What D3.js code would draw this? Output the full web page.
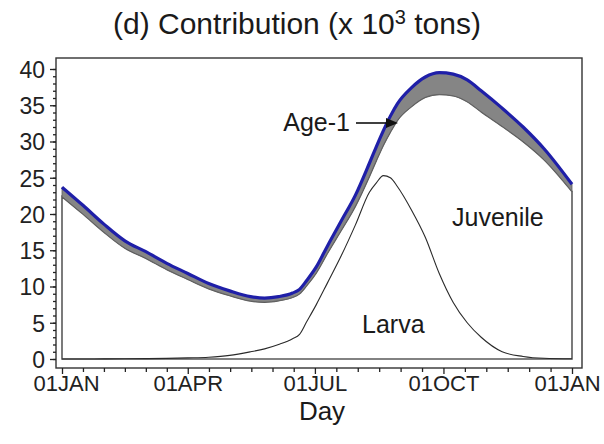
<!DOCTYPE html>
<html><head><meta charset="utf-8">
<script src="https://cdn.jsdelivr.net/npm/d3@7"></script>
<style>
html,body{margin:0;padding:0;background:#fff;}
svg{display:block;font-family:"Liberation Sans",Arial,Helvetica,sans-serif;}
</style></head>
<body><svg id="chart" width="604" height="444"></svg>
<script>
// ---- data (x 10^3 tons), day of year ----
const days     = [0,15,30,45,60,75,90,105,120,135,145,155,165,170,175,182,190,200,210,220,225,230,235,240,250,260,270,280,290,300,315,330,345,365];
const larva    = [0,0,0.02,0.03,0.05,0.08,0.15,0.25,0.5,1.0,1.4,2.0,2.8,3.4,5.1,7.5,10.5,14.3,18.5,23.0,24.3,25.3,25.0,23.8,20.6,16.8,11.8,7.8,5.0,3.0,1.0,0.35,0.1,0.03];
const juvenile = [22.4,20.0,17.48,15.27,13.85,12.27,10.85,9.45,8.25,7.0,6.45,6.05,5.7,5.6,5.0,4.4,4.1,3.5,2.6,2.2,3.1,4.2,6.3,9.1,14.2,19.3,24.7,28.5,30.5,31.1,31.1,29.65,27.4,23.07];
const age1     = [1.3,1.2,1.1,1.0,0.9,0.85,0.8,0.7,0.65,0.6,0.55,0.55,0.6,0.6,0.7,0.8,1.0,1.3,1.5,1.8,1.9,2.0,2.2,2.3,2.6,2.8,3.0,3.0,3.0,2.9,2.5,2.0,1.5,1.0];
const xTickDays   = [0,90,181,273,365];
const xTickLabels = ["01JAN","01APR","01JUL","01OCT","01JAN"];
const yTicks      = [0,5,10,15,20,25,30,35,40];
const seriesKeys  = ["larva","juvenile","age1"];

const rows = days.map((d,i)=>({day:d, larva:larva[i], juvenile:juvenile[i], age1:age1[i]}));
const stacked = d3.stack().keys(seriesKeys)(rows);

const svg = d3.select("#chart");
const frame = {left:56, top:58, right:582, bottom:368};
const x = d3.scaleLinear().domain([0,365]).range([62,572]);
const y = d3.scaleLinear().domain([0,40]).range([359,69]);

const curve = d3.curveMonotoneX;
// juvenile (0 -> larva+juvenile) outlined polygon
svg.append("path")
  .datum(stacked[1])
  .attr("d", d3.area().curve(curve).x(d=>x(d.data.day)).y0(y(0)).y1(d=>y(d[1])))
  .attr("fill","#fff").attr("stroke","#5a5a5a").attr("stroke-width",1.6);

// age-1 band
svg.append("path")
  .datum(stacked[2])
  .attr("d", d3.area().curve(curve).x(d=>x(d.data.day)).y0(d=>y(d[0])).y1(d=>y(d[1])))
  .attr("fill","#858585").attr("stroke","#606060").attr("stroke-width",0.8);

// larva line
svg.append("path")
  .datum(stacked[0])
  .attr("d", d3.line().curve(curve).x(d=>x(d.data.day)).y(d=>y(d[1])))
  .attr("fill","none").attr("stroke","#2a2a2a").attr("stroke-width",1.1);

// total (blue)
svg.append("path")
  .datum(stacked[2])
  .attr("d", d3.line().curve(curve).x(d=>x(d.data.day)).y(d=>y(d[1])))
  .attr("fill","none").attr("stroke","#1f1fa8").attr("stroke-width",3.2)
  .attr("stroke-linejoin","round");

// frame
svg.append("rect")
  .attr("x",frame.left).attr("y",frame.top)
  .attr("width",frame.right-frame.left).attr("height",frame.bottom-frame.top)
  .attr("fill","none").attr("stroke","#333").attr("stroke-width",1.4);

// y axis
const yAx = svg.append("g").attr("transform",`translate(${frame.left},0)`);
yAx.call(d3.axisLeft(y).tickValues(d3.range(0,41,1)).tickSize(3).tickFormat(""));
yAx.call(g=>g.select(".domain").remove());
const yAx2 = svg.append("g").attr("transform",`translate(${frame.left},0)`);
yAx2.call(d3.axisLeft(y).tickValues(yTicks).tickSize(6).tickPadding(5));
yAx2.call(g=>g.select(".domain").remove());
yAx2.selectAll("text").attr("font-size",23).attr("fill","#222")
  .attr("font-family","\"Liberation Sans\",Arial,sans-serif").attr("dy","0.36em");

// x axis
const minorX = [];
for (let i=0;i<xTickDays.length-1;i++){
  const a=xTickDays[i], b=xTickDays[i+1];
  for (let k=1;k<6;k++) minorX.push(a+(b-a)*k/6);
}
const xAx = svg.append("g").attr("transform",`translate(0,${frame.bottom})`);
xAx.call(d3.axisBottom(x).tickValues(minorX).tickSize(4).tickFormat(""));
xAx.call(g=>g.select(".domain").remove());
const xAx2 = svg.append("g").attr("transform",`translate(0,${frame.bottom})`);
xAx2.call(d3.axisBottom(x).tickValues(xTickDays).tickSize(6).tickPadding(1)
  .tickFormat((d,i)=>xTickLabels[i]));
xAx2.call(g=>g.select(".domain").remove());
xAx2.selectAll("text").attr("font-size",22).attr("fill","#222")
  .attr("font-family","\"Liberation Sans\",Arial,sans-serif")
  .attr("dx",(d,i)=> i===xTickDays.length-1 ? -5 : (i===0 ? 4 : 0));
svg.selectAll(".tick line").attr("stroke","#222").attr("stroke-width",1.3);

// titles
const title = svg.append("text").attr("x",297).attr("y",34).attr("text-anchor","middle")
  .attr("font-size",30).attr("fill","#1a1a1a");
title.append("tspan").text("(d) Contribution (x 10");
title.append("tspan").attr("font-size",20).attr("dy",-10).text("3");
title.append("tspan").attr("dy",10).text(" tons)");

svg.append("text").attr("x",322).attr("y",420).attr("text-anchor","middle")
  .attr("font-size",26).attr("fill","#1a1a1a").text("Day");

// in-plot labels
svg.append("text").attr("x",350).attr("y",131).attr("text-anchor","end")
  .attr("font-size",25).attr("fill","#1a1a1a").text("Age-1");
svg.append("text").attr("x",452).attr("y",226)
  .attr("font-size",25).attr("fill","#1a1a1a").text("Juvenile");
svg.append("text").attr("x",362).attr("y",333)
  .attr("font-size",25).attr("fill","#1a1a1a").text("Larva");

// arrow
const ax0 = 356, ax1 = 398, ay = 123;
svg.append("line").attr("x1",ax0).attr("y1",ay).attr("x2",ax1-10).attr("y2",ay)
  .attr("stroke","#111").attr("stroke-width",1.6);
svg.append("path").attr("d",`M${ax1},${ay} L${ax1-12},${ay-5} L${ax1-12},${ay+5} Z`)
  .attr("fill","#111");
</script></body></html>
